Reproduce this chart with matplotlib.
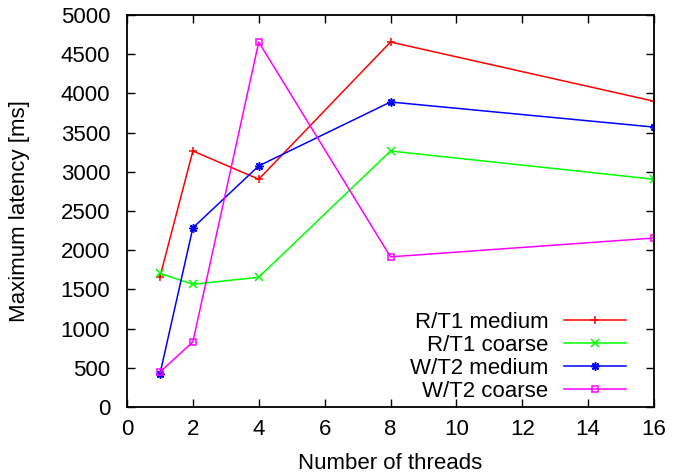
import matplotlib
matplotlib.use("Agg")
import matplotlib.pyplot as plt

# Data
threads = [1, 2, 4, 8, 16]
r_medium = [1660, 3265, 2905, 4655, 3900]
r_coarse = [1705, 1565, 1655, 3265, 2905]
w_medium = [420, 2285, 3075, 3890, 3570]
w_coarse = [445, 830, 4655, 1915, 2155]

labels = ["R/T1 medium", "R/T1 coarse", "W/T2 medium", "W/T2 coarse"]
colors = ["#ff0000", "#00ff00", "#0000ff", "#ff00ff"]
markers = ["+", "x", (8, 2, 0), "s"]

plt.rcParams["font.family"] = ["Liberation Sans", "DejaVu Sans"]
plt.rcParams["font.size"] = 16

fig = plt.figure(figsize=(6.73, 4.74), dpi=100)
ax = fig.add_axes([0.1887, 0.1414, 0.7831, 0.8270])

for ys, lab, c, m in zip([r_medium, r_coarse, w_medium, w_coarse], labels, colors, markers):
    ax.plot(threads, ys, color=c, marker=m, lw=1.1, ms=5 if m == "s" else 6,
            mfc="none" if m == "s" else c, mew=1.1, label=lab)

ax.set_xlim(0, 16)
ax.set_ylim(0, 5000)
ax.set_xticks(range(0, 17, 2))
ax.set_yticks(range(0, 5001, 500))
ax.tick_params(direction="in", top=True, right=True, length=6, width=1)
ax.tick_params(axis="x", pad=9)
ax.tick_params(axis="y", pad=12)
for s in ax.spines.values():
    s.set_linewidth(1.3)

ax.set_xlabel("Number of threads", labelpad=9)
ax.set_ylabel("Maximum latency [ms]", labelpad=22)

ax.legend(loc="lower right", frameon=False, markerfirst=False, handlelength=2.8,
          handletextpad=0.7, labelspacing=0.1, borderaxespad=0, borderpad=0,
          bbox_to_anchor=(0.947, 0.012))

fig.savefig("out.png", dpi=100)
